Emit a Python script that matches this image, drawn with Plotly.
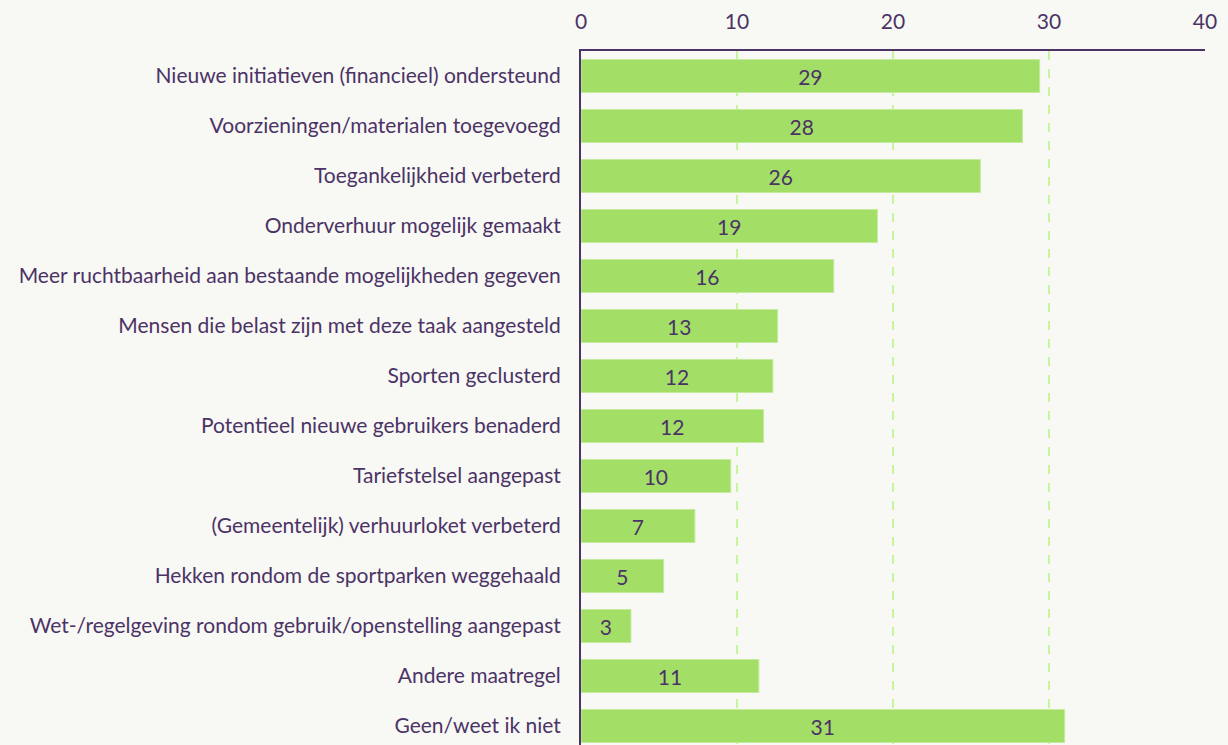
import plotly.graph_objects as go

# Maatregelen en aandeel (%) van de respondenten
categories = [
    "Nieuwe initiatieven (financieel) ondersteund",
    "Voorzieningen/materialen toegevoegd",
    "Toegankelijkheid verbeterd",
    "Onderverhuur mogelijk gemaakt",
    "Meer ruchtbaarheid aan bestaande mogelijkheden gegeven",
    "Mensen die belast zijn met deze taak aangesteld",
    "Sporten geclusterd",
    "Potentieel nieuwe gebruikers benaderd",
    "Tariefstelsel aangepast",
    "(Gemeentelijk) verhuurloket verbeterd",
    "Hekken rondom de sportparken weggehaald",
    "Wet-/regelgeving rondom gebruik/openstelling aangepast",
    "Andere maatregel",
    "Geen/weet ik niet",
]
values = [29.4, 28.3, 25.6, 19.0, 16.2, 12.6, 12.3, 11.7, 9.6, 7.3, 5.3, 3.2, 11.4, 31.0]
x_ticks = [0, 10, 20, 30, 40]

text_color = "#4b3366"
bar_color = "#a3df67"
grid_color = "#c6f59c"
bg_color = "#f8f8f4"
font_family = "Lato, 'Open Sans', sans-serif"

fig = go.Figure(
    go.Bar(
        x=values,
        y=categories,
        orientation="h",
        marker=dict(color=bar_color, line=dict(color="#c4ea9c", width=1)),
        text=values,
        texttemplate="%{x:.0f}",
        textposition="inside",
        insidetextanchor="middle",
        textfont=dict(color=text_color, size=21, family=font_family),
        hoverinfo="skip",
    )
)

fig.update_layout(
    width=1228,
    height=745,
    margin=dict(l=581, r=23, t=51, b=0),
    paper_bgcolor=bg_color,
    plot_bgcolor=bg_color,
    font=dict(family=font_family, color=text_color, size=21),
    bargap=0.34,
    showlegend=False,
)

fig.update_xaxes(
    side="top",
    range=[0, 40],
    tickvals=x_ticks,
    showgrid=True,
    gridcolor=grid_color,
    griddash="dash",
    gridwidth=1.5,
    zeroline=False,
    showline=True,
    linecolor=text_color,
    linewidth=2,
    ticks="",
    ticklabelstandoff=12,
    tickfont=dict(size=21, color=text_color),
)

fig.update_yaxes(
    categoryorder="array",
    categoryarray=categories,
    range=[13.38, -0.5],
    showgrid=False,
    zeroline=False,
    showline=True,
    linecolor=text_color,
    linewidth=2,
    ticks="",
    ticklabelstandoff=14,
    tickfont=dict(size=21, color=text_color),
)

fig.write_html("out.html")
